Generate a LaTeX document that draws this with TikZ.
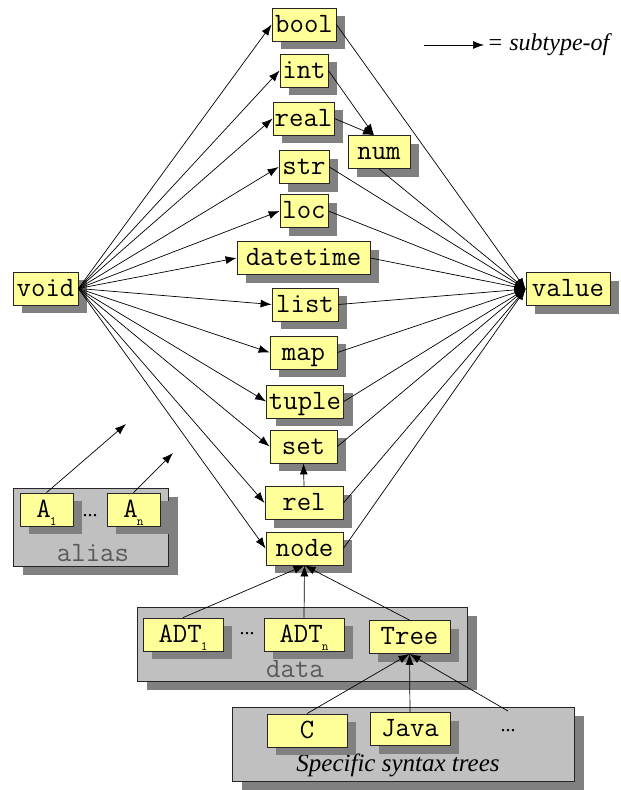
\documentclass[tikz,border=0pt]{standalone}
\usepackage{fontspec}
\setmainfont{Liberation Serif}
\usetikzlibrary{shadows,arrows.meta}
\definecolor{boxyellow}{HTML}{FFFF99}
\definecolor{boxgray}{HTML}{C0C0C0}
\definecolor{shadowgray}{HTML}{808080}
\definecolor{labelgray}{HTML}{5A5A5A}
\newcommand{\subs}[1]{\kern-1pt\raisebox{-8pt}{\fontsize{13}{13}\selectfont #1}}
\begin{document}
\begin{tikzpicture}[x=1pt,y=-1pt,
  typebox/.style={draw=black!85, line width=0.8pt, fill=boxyellow,
    font=\ttfamily\fontsize{28}{28}\selectfont, inner xsep=0pt, inner ysep=4pt,
    text height=20pt, text depth=5pt, minimum height=32pt,
    drop shadow={shadow xshift=9pt, shadow yshift=-8pt, fill=shadowgray, opacity=1}},
  groupbox/.style={draw=black!85, line width=0.8pt, fill=boxgray, inner sep=0pt,
    drop shadow={shadow xshift=10pt, shadow yshift=-9pt, fill=shadowgray, opacity=1}},
  grouplabel/.style={font=\ttfamily\fontsize{28}{28}\selectfont, text=labelgray, inner sep=0pt},
  dots/.style={font=\fontsize{20}{20}\selectfont, inner sep=0pt},
  subarrow/.style={-{Latex[length=11pt,width=8pt]}, line width=0.7pt}
]
\useasboundingbox (0,0) rectangle (621,790);

% group boxes
\node[groupbox, minimum width=155pt, minimum height=78pt] (aliasbox) at (90.5,527) {};
\node[groupbox, minimum width=330pt, minimum height=74pt] (databox) at (302,644) {};
\node[groupbox, minimum width=342pt, minimum height=74pt] (specbox) at (403,744) {};

\node[grouplabel] (aliaslbl) at (93,553) {alias};
\node[grouplabel] (datalbl) at (295,669) {data};
\node[font=\itshape\fontsize{25}{25}\selectfont, inner sep=0pt] (speclbl) at (398,765) {Specific syntax trees};

% type boxes
\node[typebox, minimum width=64pt] (tbool) at (304,24.5) {bool};
\node[typebox, minimum width=48pt] (tint) at (304,70.5) {int};
\node[typebox, minimum width=61pt] (treal) at (303.5,118.5) {real};
\node[typebox, minimum width=62pt] (tnum) at (379,152) {num};
\node[typebox, minimum width=50pt] (tstr) at (304,167) {str};
\node[typebox, minimum width=48pt] (tloc) at (304,211) {loc};
\node[typebox, minimum width=133pt] (tdatetime) at (303.5,258) {datetime};
\node[typebox, minimum width=66pt] (tlist) at (305,304.5) {list};
\node[typebox, minimum width=67pt] (tmap) at (303.5,352.5) {map};
\node[typebox, minimum width=77pt] (ttuple) at (305,401.5) {tuple};
\node[typebox, minimum width=67pt] (tset) at (303.5,446.5) {set};
\node[typebox, minimum width=78pt] (trel) at (304,503) {rel};
\node[typebox, minimum width=77pt] (tnode) at (304.5,548.5) {node};
\node[typebox, minimum width=65pt] (tvoid) at (45.5,288.5) {void};
\node[typebox, minimum width=84pt] (tvalue) at (568,289) {value};

\node[typebox, minimum width=53pt] (tA1) at (46.5,509.5) {A\subs{1}};
\node[typebox, minimum width=53pt] (tAn) at (133.5,509.5) {A\subs{n}};
\node[dots] (adots) at (90,516) {...};
\coordinate (alias1tip) at (126,424);
\coordinate (aliasntip) at (173,453);

\node[typebox, minimum width=80pt] (tADT1) at (183,634.5) {ADT\subs{1}};
\node[typebox, minimum width=80pt] (tADTn) at (304,634.5) {ADT\subs{n}};
\node[typebox, minimum width=81pt] (tTree) at (409.5,637) {Tree};
\node[dots] (ddots) at (247,634) {...};

\node[typebox, minimum width=80pt] (tC) at (307,730.5) {C};
\node[typebox, minimum width=80pt] (tJava) at (410,729) {Java};
\node[dots] (sdots) at (508,731) {...};
\coordinate (sdotstop) at (508,711);

% legend
\coordinate (legA) at (424,45);
\coordinate (legB) at (484,45);
\draw[subarrow] (legA) -- (legB);
\node[anchor=west, inner sep=0pt, font=\itshape\fontsize{24}{24}\selectfont] (legtext) at (487,45) {= subtype-of};

% void edges
\foreach \t in {tbool,tint,treal,tstr,tloc,tdatetime,tlist,tmap,ttuple,tset,trel,tnode}
  \draw[subarrow] (tvoid.east) -- (\t.west);

% value edges
\foreach \t in {tbool,tstr,tloc,tdatetime,tlist,tmap,ttuple,tset,trel,tnode}
  \draw[subarrow] (\t.east) -- (tvalue.west);
\draw[subarrow] (tnum.south) -- (tvalue.west);
\draw[subarrow] (tint.east) -- ([xshift=-5pt]tnum.north);
\draw[subarrow] (treal.east) -- ([xshift=-5pt]tnum.north);
\draw[subarrow] (trel.north) -- (tset.south);

% alias
\draw[subarrow] (tA1.north) -- (alias1tip);
\draw[subarrow] (tAn.north) -- (aliasntip);

% data
\draw[subarrow] (tADT1.north) -- (tnode.south);
\draw[subarrow] (tADTn.north) -- (tnode.south);
\draw[subarrow] (tTree.north) -- (tnode.south);

% syntax trees
\draw[subarrow] (tC.north) -- (tTree.south);
\draw[subarrow] (tJava.north) -- (tTree.south);
\draw[subarrow] (sdotstop) -- (tTree.south);
\end{tikzpicture}
\end{document}
